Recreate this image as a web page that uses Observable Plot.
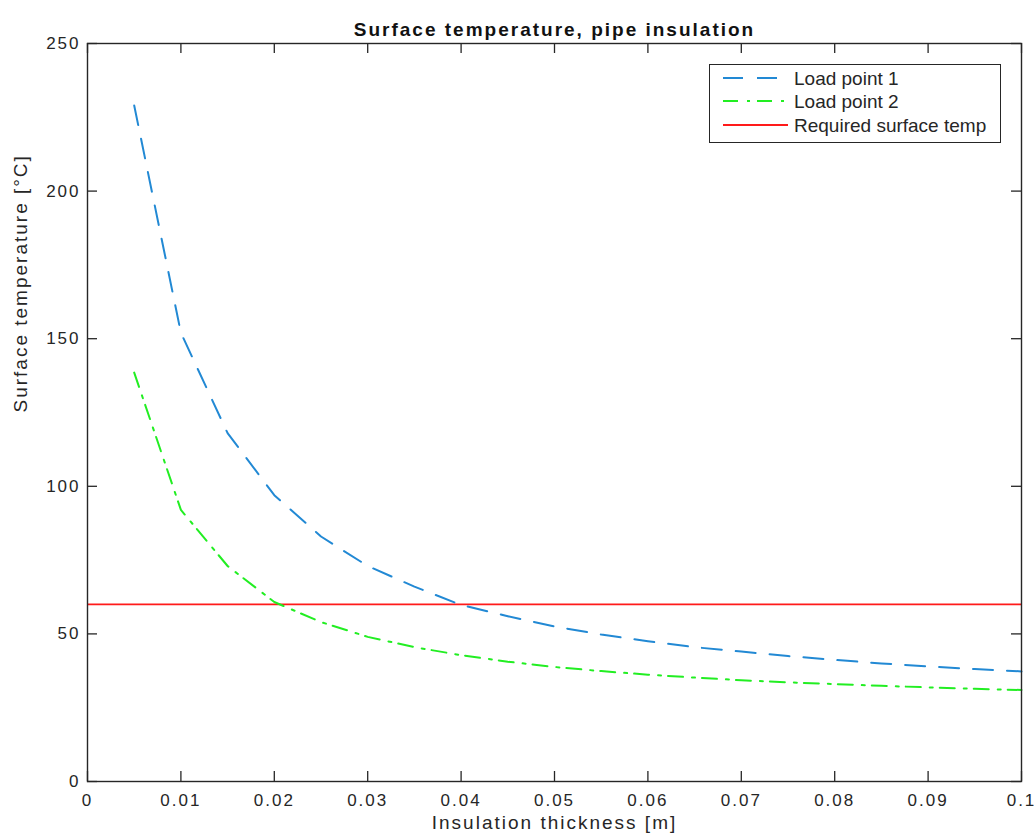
<!DOCTYPE html>
<html>
<head>
<meta charset="utf-8">
<script src="https://cdn.jsdelivr.net/npm/d3@7"></script>
<script src="https://cdn.jsdelivr.net/npm/@observablehq/plot@0.6"></script>
<style>
  body { margin: 0; background: #fff; }
  #wrap { position: relative; width: 1034px; height: 838px; overflow: hidden; }
  #chart text { letter-spacing: 2px; }
  #legend { position: absolute; left: 709px; top: 64px; width: 292px; height: 79px; box-sizing: border-box; border: 1.5px solid #262626; background: #fff; }
  #legend text { font-family: "Liberation Sans", Arial, sans-serif; font-size: 19px; fill: #262626; }
</style>
</head>
<body>
<div id="wrap">
  <div id="chart"></div>
  <div id="legend"></div>
</div>
<script>
// ---- data ----
const thickness = [0.005, 0.01, 0.015, 0.02, 0.025, 0.03, 0.035, 0.04, 0.045, 0.05,
                   0.055, 0.06, 0.065, 0.07, 0.075, 0.08, 0.085, 0.09, 0.095, 0.1];
const loadPoint1 = [229, 152, 118, 97, 83, 73, 66, 59.8, 56, 52.5,
                    49.8, 47.5, 45.5, 44, 42.5, 41.2, 40, 39, 38.1, 37.3];
const loadPoint2 = [138.5, 92, 73, 60.8, 54, 49, 45.5, 42.8, 40.6, 38.8,
                    37.4, 36.2, 35.2, 34.3, 33.6, 33, 32.4, 31.9, 31.4, 31];
const requiredTemp = 60;

const seriesNames = ["Load point 1", "Load point 2", "Required surface temp"];
const seriesColors = ["#2289d4", "#22ee22", "#ff1a1a"];
const seriesDash = ["20,14", "15,9,3,7", null];

const xTicks = [0, 0.01, 0.02, 0.03, 0.04, 0.05, 0.06, 0.07, 0.08, 0.09, 0.1];
const xTickLabels = ["0", "0.01", "0.02", "0.03", "0.04", "0.05", "0.06", "0.07", "0.08", "0.09", "0.1"];
const yTicks = [0, 50, 100, 150, 200, 250];

const titleText = "Surface temperature, pipe insulation";
const xLabelText = "Insulation thickness [m]";
const yLabelText = "Surface temperature [°C]";

// ---- layout ----
const W = 1034, H = 838;
const mL = 87, mR = 13, mT = 43, mB = 57;
const innerW = W - mL - mR, innerH = H - mT - mB;
const tickLen = 10;
const ink = "#262626";

const rows1 = thickness.map((x, i) => ({x, y: loadPoint1[i]}));
const rows2 = thickness.map((x, i) => ({x, y: loadPoint2[i]}));

const chart = Plot.plot({
  width: W, height: H,
  marginLeft: mL, marginRight: mR, marginTop: mT, marginBottom: mB,
  style: {fontFamily: "'Liberation Sans', Arial, sans-serif", fontSize: "17px", color: ink, background: "#fff", overflow: "visible"},
  x: {domain: [0, 0.1]},
  y: {domain: [0, 250]},
  marks: [
    Plot.ruleY([requiredTemp], {stroke: seriesColors[2], strokeWidth: 1.6}),
    Plot.line(rows1, {x: "x", y: "y", stroke: seriesColors[0], strokeWidth: 2, strokeDasharray: seriesDash[0]}),
    Plot.line(rows2, {x: "x", y: "y", stroke: seriesColors[1], strokeWidth: 2, strokeDasharray: seriesDash[1]}),
    Plot.frame({stroke: ink, strokeWidth: 1.4}),
    Plot.tickX(xTicks, {x: d => d, insetTop: innerH - tickLen, stroke: ink, strokeWidth: 1.3}),
    Plot.tickX(xTicks, {x: d => d, insetBottom: innerH - tickLen, stroke: ink, strokeWidth: 1.3}),
    Plot.tickY(yTicks, {y: d => d, insetRight: innerW - tickLen, stroke: ink, strokeWidth: 1.3}),
    Plot.tickY(yTicks, {y: d => d, insetLeft: innerW - tickLen, stroke: ink, strokeWidth: 1.3}),
    Plot.axisX(xTicks, {tickSize: 0, tickPadding: 12, tickFormat: d => xTickLabels[xTicks.indexOf(d)], label: null, fill: ink}),
    Plot.axisY(yTicks, {tickSize: 0, tickPadding: 7, tickFormat: d => String(d), label: null, fill: ink}),
    Plot.text([titleText], {frameAnchor: "top", dy: -21, fontWeight: "bold", fontSize: 19, fill: "#111"}),
    Plot.text([xLabelText], {frameAnchor: "bottom", dy: 47, fontSize: 19, fill: ink}),
    Plot.text([yLabelText], {frameAnchor: "left", dx: -67, rotate: -90, fontSize: 19, fill: ink})
  ]
});
document.getElementById("chart").appendChild(chart);

// ---- legend (HTML overlay) ----
const lg = d3.select("#legend").append("svg").attr("width", 289).attr("height", 76);
const rowY = [13, 36, 60];
seriesNames.forEach((name, i) => {
  lg.append("line")
    .attr("x1", 13).attr("x2", 78).attr("y1", rowY[i]).attr("y2", rowY[i])
    .attr("stroke", seriesColors[i]).attr("stroke-width", 2)
    .attr("stroke-dasharray", seriesDash[i]);
  lg.append("text").attr("x", 84).attr("y", rowY[i]).attr("dy", "0.35em").text(name);
});
</script>
</body>
</html>
